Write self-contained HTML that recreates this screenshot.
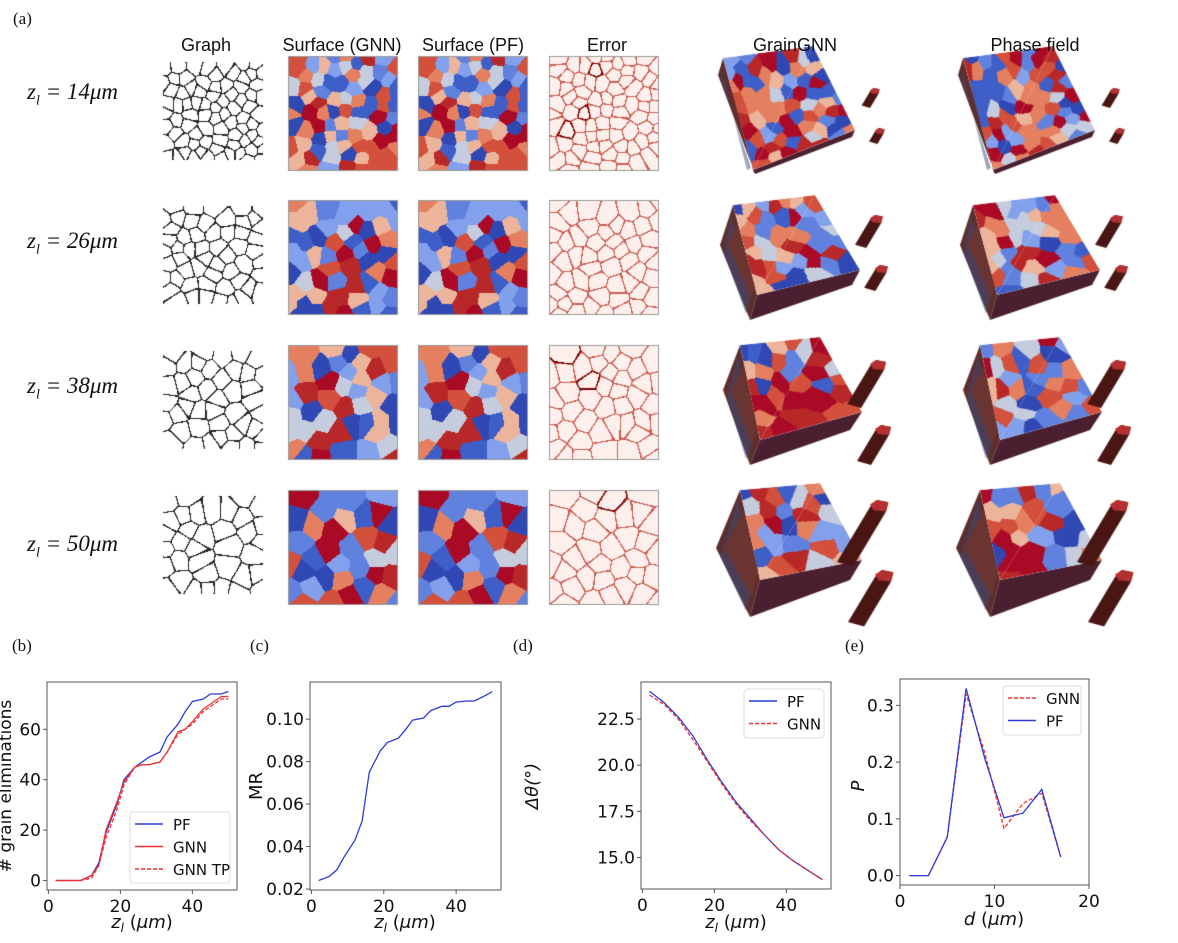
<!DOCTYPE html>
<html><head><meta charset="utf-8">
<style>
html,body{margin:0;padding:0;background:#fff;}
#root{position:relative;width:1178px;height:943px;overflow:hidden;background:#fff;}
canvas,svg{position:absolute;left:0;top:0;}
.t{position:absolute;white-space:nowrap;}
.col{font-family:"Liberation Sans",sans-serif;font-size:18px;color:#111;transform:translateX(-50%);}
.rowl{font-family:"Liberation Serif",serif;font-size:23px;font-style:italic;color:#111;}
.pl{font-family:"Liberation Serif",serif;font-size:17px;color:#111;}
</style></head>
<body>
<div id="root">
<canvas id="cv" width="1178" height="943"></canvas>
<svg id="sv" width="1178" height="943"></svg>
<div class="t pl" style="left:13px;top:9px">(a)</div>
<div class="t col" style="left:206px;top:35px">Graph</div>
<div class="t col" style="left:342px;top:35px">Surface (GNN)</div>
<div class="t col" style="left:473px;top:35px">Surface (PF)</div>
<div class="t col" style="left:607px;top:35px">Error</div>
<div class="t col" style="left:795px;top:35px">GrainGNN</div>
<div class="t col" style="left:1035px;top:35px">Phase field</div>
<div class="t rowl" style="left:27px;top:79px">z<sub style="font-size:14px">l</sub> = 14<i>μm</i></div>
<div class="t rowl" style="left:27px;top:228px">z<sub style="font-size:14px">l</sub> = 26<i>μm</i></div>
<div class="t rowl" style="left:27px;top:373px">z<sub style="font-size:14px">l</sub> = 38<i>μm</i></div>
<div class="t rowl" style="left:27px;top:531px">z<sub style="font-size:14px">l</sub> = 50<i>μm</i></div>
<div class="t pl" style="left:12px;top:636px">(b)</div>
<div class="t pl" style="left:250px;top:636px">(c)</div>
<div class="t pl" style="left:513px;top:636px">(d)</div>
<div class="t pl" style="left:845px;top:636px">(e)</div>
</div>
<script>
// ---------- chart data ----------
const bX=[2,5,7,9,12,14,16,19,21,24,26,28,31,33,36,38,40,43,45,48,50];
const bPF=[0,0,0,0,2,7,19,30,40,45,47,49,51,57,62,67,71,72,74,74,75];
const bGNN=[0,0,0,0,2,6,20,31,39,45,46,46,47,51,59,60,63,68,70,73,73];
const bGNNTP=[0,0,0,0,1,6,17,28,38,45,46,46,47,51,58,60,62,67,69,72,72];
const bXTicks=[0,20,40];
const bYTicks=[0,20,40,60];
const cMR=[0.024,0.026,0.029,0.035,0.043,0.052,0.075,0.085,0.089,0.091,0.095,0.0995,0.1005,0.104,0.106,0.106,0.108,0.1085,0.1085,0.111,0.113];
const cYTicks=[0.02,0.04,0.06,0.08,0.10];
const dX=[2,6,10,14,18,22,26,30,34,38,42,46,50];
const dPF=[24.0,23.4,22.6,21.6,20.3,19.1,18.0,17.1,16.2,15.4,14.8,14.3,13.8];
const dGNN=[23.8,23.3,22.5,21.4,20.2,19.0,17.9,17.0,16.2,15.4,14.8,14.3,13.8];
const dYTicks=[15.0,17.5,20.0,22.5];
const eX=[1,3,5,7,9,11,13,15,17];
const ePF=[0,0,0.068,0.33,0.205,0.102,0.11,0.152,0.033];
const eGNN=[0,0,0.068,0.32,0.215,0.083,0.127,0.145,0.033];
const eXTicks=[0,10,20];
const eYTicks=[0.0,0.1,0.2,0.3];

const NS='http://www.w3.org/2000/svg';
const sv=document.getElementById('sv');
function mk(tag,attrs,parent){const e=document.createElementNS(NS,tag);for(const k in attrs)e.setAttribute(k,attrs[k]);(parent||sv).appendChild(e);return e;}
const FONT='"DejaVu Sans","Liberation Sans",sans-serif';

function panel(name,box,xlim,ylim){
  const g=mk('g',{});
  
  
  const sx=v=>box.l+(v-xlim[0])/(xlim[1]-xlim[0])*(box.r-box.l);
  const sy=v=>box.b-(v-ylim[0])/(ylim[1]-ylim[0])*(box.b-box.t);
  const fr=mk('rect',{x:box.l,y:box.t,width:box.r-box.l,height:box.b-box.t,fill:'none',stroke:'#555','stroke-width':1},g);
  
  
  return {g,sx,sy,box};
}
function xticks(p,ticks,fmt){
  ticks.forEach(v=>{
    const x=p.sx(v);
    const l=mk('line',{x1:x,x2:x,y1:p.box.b,y2:p.box.b+4,stroke:'#555'},p.g);
    
    
    const t=mk('text',{x:x,y:p.box.b+22,'text-anchor':'middle','font-size':17,'font-family':FONT,fill:'#111'},p.g);
    t.textContent=fmt?fmt(v):String(v);
    
    
  });
}
function yticks(p,ticks,fmt){
  ticks.forEach(v=>{
    const y=p.sy(v);
    const l=mk('line',{x1:p.box.l-4,x2:p.box.l,y1:y,y2:y,stroke:'#555'},p.g);
    
    
    const t=mk('text',{x:p.box.l-6,y:y+6,'text-anchor':'end','font-size':17,'font-family':FONT,fill:'#111'},p.g);
    t.textContent=fmt?fmt(v):String(v);
    
    
  });
}
function series(p,xs,ys,color,dash,name){
  const d=xs.map((x,i)=>(i?'L':'M')+p.sx(x).toFixed(1)+','+p.sy(ys[i]).toFixed(1)).join(' ');
  const a={d:d,fill:'none',stroke:color,'stroke-width':1.3};
  if(dash)a['stroke-dasharray']=dash;
  const e=mk('path',a,p.g);
  
  
}
function xlabel(p,cx,y,mainText){
  const t=mk('text',{x:cx,y:y,'text-anchor':'middle','font-size':18,'font-family':FONT,fill:'#111'},p.g);
  
  
  if(mainText==='d'){
    const a=mk('tspan',{'font-style':'italic'},t);a.textContent='d';
    const b=mk('tspan',{},t);b.textContent=' (';
    const c=mk('tspan',{'font-style':'italic'},t);c.textContent='μm';
    const d=mk('tspan',{},t);d.textContent=')';
  } else {
    const a=mk('tspan',{'font-style':'italic'},t);a.textContent='z';
    const s=mk('tspan',{'font-style':'italic','font-size':12,dy:4},t);s.textContent='l';
    const b=mk('tspan',{dy:-4},t);b.textContent=' (';
    const c=mk('tspan',{'font-style':'italic'},t);c.textContent='μm';
    const d=mk('tspan',{},t);d.textContent=')';
  }
}
function ylabel(p,x,cy,txt,italic,fs){
  const t=mk('text',{x:x,y:cy,'text-anchor':'middle','font-size':fs||18,'font-family':FONT,fill:'#111',transform:`rotate(-90 ${x} ${cy})`},p.g);
  if(italic)t.setAttribute('font-style','italic');
  t.textContent=txt;
  
  
}
function legend(p,box,entries){
  const r=mk('rect',{x:box[0],y:box[1],width:box[2],height:box[3],fill:'#fff',stroke:'#ddd',rx:3},p.g);
  
  
  entries.forEach((en,i)=>{
    const y=box[1]+12+i*22.5;
    const a={x1:box[0]+5,x2:box[0]+33,y1:y,y2:y,stroke:en.c,'stroke-width':1.4};
    if(en.dash)a['stroke-dasharray']=en.dash;
    const l=mk('line',a,p.g);
    
    
    const t=mk('text',{x:box[0]+43,y:y+6,'font-size':15,'font-family':FONT,fill:'#111'},p.g);
    t.textContent=en.t;
    
    
  });
}
// (b)
const pb=panel('chart-grain-eliminations',{l:47,t:682,r:237,b:890},[-0.4,52.4],[-3.75,78.75]);
series(pb,bX,bPF,'#2b3bd9',null,'line-pf');
series(pb,bX,bGNN,'#f03030',null,'line-gnn');
series(pb,bX,bGNNTP,'#f03030','4,2','line-gnn-tp');
xticks(pb,bXTicks);yticks(pb,bYTicks);
xlabel(pb,142,928,'z');ylabel(pb,11,786,'# grain eliminations',false,17);
legend(pb,[130,812,100,71],[{t:'PF',c:'#2b3bd9'},{t:'GNN',c:'#f03030'},{t:'GNN TP',c:'#f03030',dash:'4,2'}]);
// (c)
const pc=panel('chart-mr',{l:310,t:682,r:501,b:890},[-0.4,52.4],[0.01955,0.11745]);
series(pc,bX,cMR,'#2b3bd9',null,'line-mr');
xticks(pc,bXTicks);yticks(pc,cYTicks,v=>v.toFixed(2));
xlabel(pc,405,928,'z');ylabel(pc,262,786,'MR');
// (d)
const pd=panel('chart-misorientation',{l:641,t:682,r:831,b:889},[-0.4,52.4],[13.29,24.51]);
series(pd,dX,dPF,'#2b3bd9',null,'line-pf');
series(pd,dX,dGNN,'#f03030','4,2','line-gnn');
xticks(pd,bXTicks);yticks(pd,dYTicks,v=>v.toFixed(1));
xlabel(pd,736,928,'z');ylabel(pd,538,786,'Δθ(°)',true);
legend(pd,[744,689,80,49],[{t:'PF',c:'#2b3bd9'},{t:'GNN',c:'#f03030',dash:'4,2'}]);
// (e)
const pe=panel('chart-size-distribution',{l:900,t:679,r:1089,b:885},[0,20],[-0.0165,0.3465]);
series(pe,eX,eGNN,'#f03030','4,2','line-gnn');
series(pe,eX,ePF,'#2b3bd9',null,'line-pf');
xticks(pe,eXTicks);yticks(pe,eYTicks,v=>v.toFixed(1));
xlabel(pe,994,925,'d');ylabel(pe,864,786,'P',true);
legend(pe,[1003,686,78,49],[{t:'GNN',c:'#f03030',dash:'4,2'},{t:'PF',c:'#2b3bd9'}]);

// ---------- microstructure images ----------
const cv=document.getElementById('cv');const ctx=cv.getContext('2d');
function rng(a){return function(){a|=0;a=a+0x6D2B79F5|0;let t=Math.imul(a^a>>>15,1|a);t=t+Math.imul(t^t>>>7,61|t)^t;return((t^t>>>14)>>>0)/4294967296;}}
const PAL=[[48,72,180],[62,94,200],[96,130,222],[130,160,235],[196,204,222],[236,180,155],[228,128,95],[210,80,60],[185,40,40],[170,10,38]];
function seeds(n,w,h,seed){
  const r=rng(seed);const s=[];const md=0.75*Math.sqrt(w*h/n);let tries=0;
  while(s.length<n&&tries<20000){tries++;
    const x=r()*w,y=r()*h;
    if(s.some(q=>(q.x-x)**2+(q.y-y)**2<md*md))continue;
    s.push({x:x,y:y,c:PAL[Math.floor(r()*PAL.length)],dk:r()<0.05});
  }
  return s;
}
function vor(w,h,S,mode){
  const id=ctx.createImageData(w,h);const D=id.data;
  for(let y=0;y<h;y++)for(let x=0;x<w;x++){
    let d1=1e9,d2=1e9,k=0;
    for(let i=0;i<S.length;i++){const dx=x-S[i].x,dy=y-S[i].y;const d=dx*dx+dy*dy;if(d<d1){d2=d1;d1=d;k=i;}else if(d<d2)d2=d;}
    const e=Math.sqrt(d2)-Math.sqrt(d1);let c;
    if(mode==='surf')c=S[k].c;
    else if(mode==='err'){c=[253,240,236];if(e<(S[k].dk?2.2:1.2))c=S[k].dk?[120,0,0]:[205,95,85];}
    else {c=[255,255,255];if(e<1.2)c=[40,40,40];}
    const o=(y*w+x)*4;D[o]=c[0];D[o+1]=c[1];D[o+2]=c[2];D[o+3]=255;
  }
  return id;
}
const rowsY=[56,200,345,490];const nSeeds=[80,55,44,36];
const off=document.createElement('canvas');const octx=off.getContext('2d');
rowsY.forEach((y0,ri)=>{
  const S=seeds(nSeeds[ri],110,115,101+ri*7);
  ctx.putImageData(vor(110,115,S,'surf'),288,y0);
  ctx.putImageData(vor(110,115,S,'surf'),418,y0);
  ctx.putImageData(vor(110,115,S,'err'),549,y0);
  ctx.putImageData(vor(100,98,seeds(nSeeds[ri],100,98,300+ri),'graph'),163,y0+6);
  ctx.strokeStyle='#999';ctx.lineWidth=1;
  [288,418,549].forEach(x=>ctx.strokeRect(x+0.5,y0+0.5,109,114));
});
// cubes
const cubes=[
 {T:[[723,58],[813,46],[855,130],[753,170]],L:[718,75],B:[755,174],R:[852,137],n:70},
 {T:[[733,205],[815,195],[860,270],[757,295]],L:[720,245],B:[750,320],R:[852,285],n:45},
 {T:[[740,345],[820,337],[862,412],[760,440]],L:[723,390],B:[750,465],R:[850,430],n:35},
 {T:[[740,490],[820,483],[862,560],[760,580]],L:[716,548],B:[750,617],R:[850,580],n:30}];
function poly(pts,fill){ctx.beginPath();pts.forEach((p,i)=>i?ctx.lineTo(p[0],p[1]):ctx.moveTo(p[0],p[1]));ctx.closePath();ctx.fillStyle=fill;ctx.fill();}
function tri(pts,a,b,o){
  ctx.save();
  ctx.beginPath();pts.forEach((p,i)=>i?ctx.lineTo(p[0],p[1]):ctx.moveTo(p[0],p[1]));ctx.closePath();ctx.clip();
  ctx.setTransform(a[0],a[1],b[0],b[1],o[0],o[1]);
  ctx.drawImage(off,0,0,100,100);
  ctx.restore();
}
cubes.forEach((cb,ci)=>{
  [0,240].forEach((dx,k)=>{
    const T=cb.T.map(p=>[p[0]+dx,p[1]]);const L=[cb.L[0]+dx,cb.L[1]],B=[cb.B[0]+dx,cb.B[1]],R=[cb.R[0]+dx,cb.R[1]];
    poly([T[0],L,B,T[3]],'#5e2e2c');
    poly([T[3],B,R,T[2]],'#4a2030');
    ctx.globalAlpha=0.5;poly([[T[0][0]-2,T[0][1]+10],[L[0]+4,L[1]+8],[B[0]-4,B[1]-6],[T[3][0]-6,T[3][1]]],'#3a4c80');ctx.globalAlpha=1;
    poly([[L[0]+8,L[1]],[T[0][0]+4,T[0][1]+20],[T[3][0]-2,T[3][1]-10],[B[0]+2,B[1]-20]],'#6a3430');
    const S=seeds(cb.n,100,100,500+ci*3+k);
    off.width=100;off.height=100;
    octx.putImageData(vor(100,100,S,'surf'),0,0);
    tri([T[0],T[1],T[3]],[(T[1][0]-T[0][0])/100,(T[1][1]-T[0][1])/100],[(T[3][0]-T[0][0])/100,(T[3][1]-T[0][1])/100],T[0]);
    const ax=(T[2][0]-T[3][0])/100,ay=(T[2][1]-T[3][1])/100,bx=(T[2][0]-T[1][0])/100,by=(T[2][1]-T[1][1])/100;
    tri([T[1],T[2],T[3]],[ax,ay],[bx,by],[T[3][0]+T[1][0]-T[2][0],T[3][1]+T[1][1]-T[2][1]]);
    const s=[0.6,0.8,1,1.15][ci];
    const fx=870+dx,fy=T[0][1]+[30,10,15,10][ci];
    const frag=(x,y,len)=>{poly([[x+6*s,y],[x+16*s,y+2*s],[x+14*s,y+10*s],[x+14*s-len*0.6,y+10*s+len],[x-len*0.6,y+6*s+len],[x,y+6*s]],'#4a1614');
      poly([[x+6*s,y],[x+16*s,y+2*s],[x+14*s,y+10*s],[x+3*s,y+9*s],[x,y+4*s]],'#b53030');};
    frag(fx,fy,[14,25,38,55][ci]);
    frag(fx+5,fy+[40,50,65,70][ci],[10,18,30,45][ci]);
  });
});
</script>
</body></html>
